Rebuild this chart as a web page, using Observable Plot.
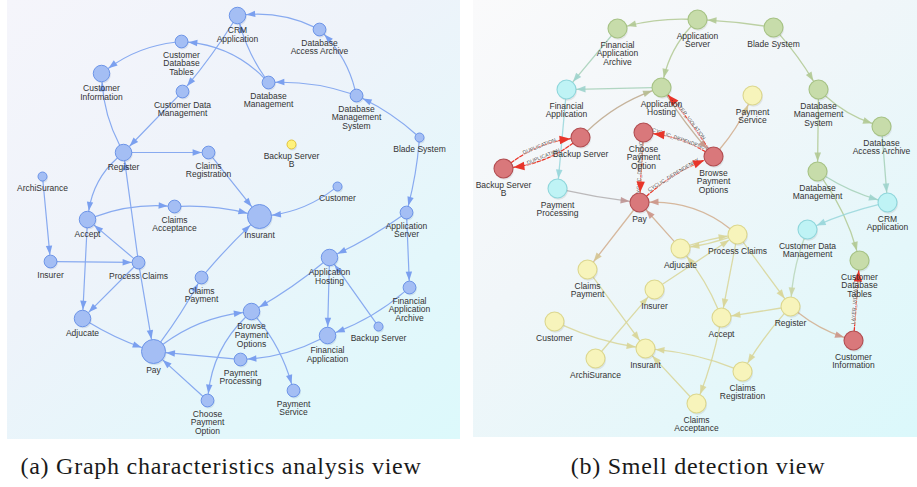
<!DOCTYPE html>
<html><head><meta charset="utf-8">
<script src="https://cdn.jsdelivr.net/npm/d3@7"></script>
<script src="https://cdn.jsdelivr.net/npm/@observablehq/plot@0.6"></script>
<style>
body{margin:0;background:#fff;width:917px;height:487px;overflow:hidden;position:relative}
#a{position:absolute;left:7px;top:0}
#b{position:absolute;left:473px;top:0}
.cap{position:absolute;top:454px;font-family:"Liberation Serif",serif;font-size:24px;line-height:24px;color:#1a1a1a;white-space:nowrap;transform:translateX(-50%);letter-spacing:0.75px}
</style></head><body>
<div id="a"></div><div id="b"></div>
<div class="cap" style="left:221px">(a) Graph characteristics analysis view</div>
<div class="cap" style="left:698px">(b) Smell detection view</div>
<script>
// ---------- DATA ----------
const nodeIds = ["CRM Application","Database Access Archive","Customer Database Tables","Database Management","Customer Information","Customer Data Management","Database Management System","Register","Claims Registration","Backup Server B","Blade System","ArchiSurance","Customer","Accept","Claims Acceptance","Insurant","Application Server","Insurer","Process Claims","Claims Payment","Application Hosting","Financial Application Archive","Adjucate","Browse Payment Options","Backup Server","Financial Application","Pay","Payment Processing","Payment Service","Choose Payment Option"];
const nodeLabels = ["CRM\nApplication","Database\nAccess Archive","Customer\nDatabase\nTables","Database\nManagement","Customer\nInformation","Customer Data\nManagement","Database\nManagement\nSystem","Register","Claims\nRegistration","Backup Server\nB","Blade System","ArchiSurance","Customer","Accept","Claims\nAcceptance","Insurant","Application\nServer","Insurer","Process Claims","Claims\nPayment","Application\nHosting","Financial\nApplication\nArchive","Adjucate","Browse\nPayment\nOptions","Backup Server","Financial\nApplication","Pay","Payment\nProcessing","Payment\nService","Choose\nPayment\nOption"];
// (a) layout and centrality score
const leftX = [237,319,181,268,101,182,356,123,208,291,419,42,337,87,174,259,406,50,138,201,329,409,82,251,378,327,153,240,293,207];
const leftY = [15,29,41,82,73,91,95,152,152,144,137,176,186,219,206,216,212,261,262,277,257,287,318,311,326,335,351,359,390,400];
const leftScore = [3,2,2,2,3,2,2,3,2,1,1,1,1,3,2,5,2,2,2,2,3,2,3,3,1,3,5,2,2,2];
// (b) layout and layer / smell status
const rightX = [887,881,859,817,853,807,818,790,742,503,773,595,554,721,696,645,697,654,737,587,661,617,680,713,580,566,639,557,752,643];
const rightY = [202,126,260,171,340,229,89,306,371,168,27,358,321,317,403,348,19,289,234,269,87,28,248,156,137,89,202,188,95,132];
const rightLayer = ["application","technology","technology","technology","smell","application","technology","business","business","smell","technology","business","business","business","business","business","technology","business","business","business","technology","technology","business","smell","smell","application","smell","application","business","smell"];
// edges: [source, target, bend]
const leftEdges = [
["Database Access Archive","CRM Application",-15],
["Database Management","CRM Application",10],
["Database Management","Customer Database Tables",-20],
["CRM Application","Customer Data Management",4],
["Database Management System","Database Access Archive",-15],
["Database Management System","Database Management",-10],
["Blade System","Database Management System",-8],
["Blade System","Application Server",5],
["Customer Database Tables","Customer Information",-15],
["Register","Customer Information",12],
["Customer Data Management","Register",0],
["Register","Claims Registration",0],
["Register","Accept",-20],
["Process Claims","Register",0],
["Process Claims","Pay",0],
["Claims Registration","Insurant",0],
["Accept","Claims Acceptance",12],
["Claims Acceptance","Insurant",8],
["Customer","Insurant",15],
["ArchiSurance","Insurer",0],
["Insurer","Process Claims",0],
["Process Claims","Accept",0],
["Process Claims","Adjucate",0],
["Accept","Adjucate",0],
["Adjucate","Pay",-6],
["Pay","Claims Payment",-4],
["Claims Payment","Insurant",3],
["Pay","Browse Payment Options",15],
["Payment Processing","Pay",0],
["Choose Payment Option","Pay",0],
["Browse Payment Options","Choose Payment Option",-20],
["Browse Payment Options","Payment Service",12],
["Application Hosting","Browse Payment Options",5],
["Application Server","Application Hosting",5],
["Application Server","Financial Application Archive",0],
["Application Hosting","Financial Application",0],
["Backup Server","Application Hosting",0],
["Financial Application Archive","Financial Application",10],
["Financial Application","Payment Processing",12]
];
// [source, target, bend, smell]
const rightEdges = [
["Application Server","Financial Application Archive",-8,""],
["Blade System","Application Server",-3,""],
["Blade System","Database Management System",5,""],
["Database Management System","Database Access Archive",-12,""],
["Database Management System","Database Management",0,""],
["Database Access Archive","CRM Application",0,""],
["Database Management","CRM Application",-8,""],
["Database Management","Customer Database Tables",10,""],
["CRM Application","Customer Data Management",-5,""],
["Customer Data Management","Register",-8,""],
["Application Server","Application Hosting",-15,""],
["Financial Application Archive","Financial Application",0,""],
["Application Hosting","Financial Application",0,""],
["Financial Application","Payment Processing",0,""],
["Payment Processing","Pay",-3,""],
["Backup Server","Application Hosting",12,""],
["Backup Server B","Backup Server",15,"DUPLICATION"],
["Backup Server","Backup Server B",15,"DUPLICATION"],
["Choose Payment Option","Pay",0,"CYCLIC_DEPENDENCY"],
["Pay","Browse Payment Options",10,"CYCLIC_DEPENDENCY"],
["Browse Payment Options","Choose Payment Option",-12,"CYCLIC_DEPENDENCY"],
["Application Hosting","Browse Payment Options",-4,""],
["Browse Payment Options","Application Hosting",-4,"LAYER_VIOLATION"],
["Browse Payment Options","Payment Service",-8,""],
["Pay","Claims Payment",0,""],
["Adjucate","Pay",0,""],
["Process Claims","Pay",-20,""],
["Process Claims","Adjucate",5,""],
["Adjucate","Process Claims",5,""],
["Insurer","Process Claims",0,""],
["ArchiSurance","Insurer",0,""],
["Accept","Adjucate",-8,""],
["Process Claims","Accept",0,""],
["Process Claims","Register",0,""],
["Register","Accept",0,""],
["Register","Claims Registration",-5,""],
["Register","Customer Information",-10,""],
["Customer Information","Customer Database Tables",0,"LAYER_VIOLATION"],
["Accept","Claims Acceptance",5,""],
["Claims Acceptance","Insurant",0,""],
["Claims Registration","Insurant",-8,""],
["Customer","Insurant",-8,""],
["Claims Payment","Insurant",0,""]
];

// ---------- STYLES ----------
const font = "Liberation Sans, Arial, sans-serif";
const layerFill = {technology:"#c7dcaa", application:"#bff3f5", business:"#f7f4bb", smell:"#d9787b"};
const layerStroke = {technology:"#a6c284", application:"#8fd6db", business:"#dcd78e", smell:"#b24d51"};
const layerEdge = {technology:"#b1c993", application:"#98d6da", business:"#d8d597", smell:"#c98583"};
const red = "#e8352a";

// ---------- GEOMETRY HELPERS ----------
function geom(edges, node, rad) {
  return edges.map(([s, t, bend, smell]) => {
    const a = node(s), b = node(t);
    const rs = rad(a), rt = rad(b);
    const phi = Math.atan2(b.y - a.y, b.x - a.x), th = bend * Math.PI / 180;
    const aS = phi - th, aE = phi + th;
    const Ldist = Math.hypot(b.x - a.x, b.y - a.y), h = Ldist / 2 * Math.tan(th / 2);
    let ang = phi * 180 / Math.PI;
    if (ang > 90) ang -= 180; if (ang < -90) ang += 180;
    return {
      s, t, bend, smell: smell || "", src: a, tgt: b,
      sx: a.x + rs * Math.cos(aS), sy: a.y + rs * Math.sin(aS),
      ex: b.x - (rt + 0.5) * Math.cos(aE), ey: b.y - (rt + 0.5) * Math.sin(aE),
      rot: Math.atan2(Math.cos(aE), -Math.sin(aE)) * 180 / Math.PI,
      mx: (a.x + b.x) / 2 + h * Math.sin(phi), my: (a.y + b.y) / 2 - h * Math.cos(phi),
      ang
    };
  });
}
function arcs(E, opts) {
  const bends = [...new Set(E.map(e => e.bend))];
  return bends.map(bd => Plot.arrow(E.filter(e => e.bend === bd), {x1: "sx", y1: "sy", x2: "ex", y2: "ey", bend: bd, headLength: 0, ...opts}));
}

// ---------- (a) ----------
const rDomain = [1, 5], rRange = [4.5, 12];
const rL = d3.scaleLinear(rDomain, rRange);
const NL = nodeIds.map((id, i) => ({id, label: nodeLabels[i], x: leftX[i], y: leftY[i], score: leftScore[i]}));
const byL = new Map(NL.map(d => [d.id, d]));
const linked = new Set(leftEdges.flatMap(e => [e[0], e[1]]));
const EL = geom(leftEdges, id => byL.get(id), d => rL(d.score));

const plotA = Plot.plot({
  width: 453, height: 439, margin: 0,
  x: {domain: [7, 460], range: [0, 453], axis: null},
  y: {domain: [0, 439], range: [0, 439], axis: null},
  r: {type: "linear", domain: rDomain, range: rRange},
  color: {type: "identity"},
  style: {background: "linear-gradient(140deg,#f5f5fb 0%,#eef3fa 40%,#e3f7fb 75%,#dcf9fb 100%)", fontFamily: font, overflow: "visible"},
  marks: [
    ...arcs(EL, {stroke: "#88aaf0", strokeWidth: 1.2}),
    Plot.vector(EL, {x: "ex", y: "ey", rotate: "rot", length: 9, r: 3.2, anchor: "end", shape: "spike", fill: "#7ba0ef", stroke: "none"}),
    Plot.dot(NL, {x: "x", y: "y", r: "score", fill: "#2a4a8a", fillOpacity: 0.12, stroke: "none", dx: 1, dy: 1.6}),
    Plot.dot(NL, {x: "x", y: "y", r: "score", fill: d => linked.has(d.id) ? "#a4bef4" : "#fff27c", stroke: d => linked.has(d.id) ? "#6c94e8" : "#e2c23a", strokeWidth: 1}),
    Plot.text(NL, {x: "x", y: d => d.y + rL(d.score) + 3.5, text: "label", lineAnchor: "top", lineHeight: 1.02, fontSize: 8.5, fill: "#333", fontFamily: font})
  ]
});
document.getElementById("a").append(plotA);

// ---------- (b) ----------
const rNode = 9.5;
const NR = nodeIds.map((id, i) => ({id, label: nodeLabels[i], x: rightX[i], y: rightY[i], layer: rightLayer[i]}));
const byR = new Map(NR.map(d => [d.id, d]));
const ER = geom(rightEdges, id => byR.get(id), () => rNode);
const plain = ER.filter(e => !e.smell), smelly = ER.filter(e => e.smell);
const mix = (e, t) => d3.interpolateRgb(layerEdge[e.src.layer], layerEdge[e.tgt.layer])(t);

const plotB = Plot.plot({
  width: 444, height: 437, margin: 0,
  x: {domain: [473, 917], range: [0, 444], axis: null},
  y: {domain: [0, 437], range: [0, 437], axis: null},
  color: {type: "identity"},
  style: {background: "linear-gradient(140deg,#fafafb 0%,#f1f6f9 40%,#e4f7fa 75%,#dbf8fb 100%)", fontFamily: font, overflow: "visible"},
  marks: [
    ...arcs(plain, {stroke: e => mix(e, 0.5), strokeWidth: 1.3, strokeOpacity: 0.85}),
    ...arcs(smelly, {stroke: red, strokeWidth: 1.3, strokeDasharray: "3.5,1.8"}),
    Plot.text(smelly, {x: "mx", y: "my", text: "smell", rotate: "ang", lineAnchor: "bottom", fontSize: 5.3, fill: "#555", stroke: "white", strokeWidth: 1.4, strokeOpacity: 0.6, fontFamily: font}),
    Plot.vector(plain, {x: "ex", y: "ey", rotate: "rot", length: 9, r: 3.3, anchor: "end", shape: "spike", fill: e => mix(e, 0.8), fillOpacity: 0.9, stroke: "none"}),
    Plot.vector(smelly, {x: "ex", y: "ey", rotate: "rot", length: 11, r: 4.2, anchor: "end", shape: "spike", fill: red, stroke: "none"}),
    Plot.dot(NR, {x: "x", y: "y", r: rNode, fill: "#404040", fillOpacity: 0.1, stroke: "none", dx: 1, dy: 1.8}),
    Plot.dot(NR, {x: "x", y: "y", r: rNode, fill: d => layerFill[d.layer], stroke: d => layerStroke[d.layer], strokeWidth: 1.1}),
    Plot.text(NR, {x: "x", y: d => d.y + rNode + 3.5, text: "label", lineAnchor: "top", lineHeight: 1.0, fontSize: 8.5, fill: "#333", fontFamily: font})
  ]
});
document.getElementById("b").append(plotB);
</script>
</body></html>
